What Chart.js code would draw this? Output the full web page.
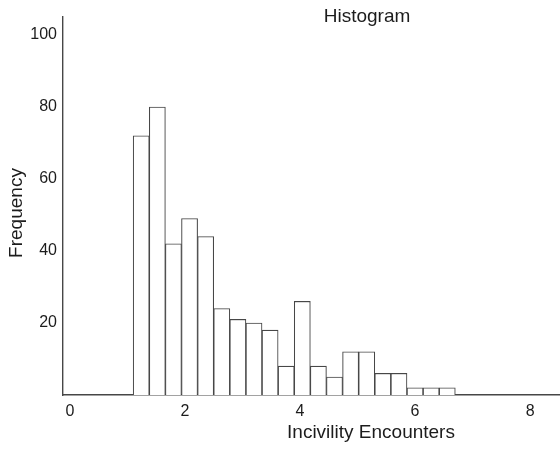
<!DOCTYPE html>
<html lang="en">
<head>
<meta charset="UTF-8">
<title>Histogram</title>
<script src="https://cdn.jsdelivr.net/npm/chart.js"></script>
<style>
    html, body { margin: 0; padding: 0; background: #fff; }
    #wrap { width: 560px; height: 450px; position: relative; }
</style>
</head>
<body>
<div id="wrap"><canvas id="hist"></canvas></div>
<script>
// bin midpoints (bins are 0.28 wide, from 1.1 to 6.7)
const binCenters = [1.24, 1.52, 1.80, 2.08, 2.36, 2.64, 2.92, 3.20, 3.48, 3.76,
                    4.04, 4.32, 4.60, 4.88, 5.16, 5.44, 5.72, 6.00, 6.28, 6.56];
const frequencies = [72, 80, 42, 49, 44, 24, 21, 20, 18, 8,
                     26, 8, 5, 12, 12, 6, 6, 2, 2, 2];
const xTicks = [0, 2, 4, 6, 8];
const yTicks = [20, 40, 60, 80, 100];

const chartTitle = 'Histogram';
const xTitle = 'Incivility Encounters';
const yTitle = 'Frequency';

const FONT = '"Liberation Sans", Helvetica, Arial, sans-serif';
const INK = '#1c1c1c';
const LINE = '#474747';

// titles sit off-centre in the original, so they are drawn by hand
const titlesPlugin = {
    id: 'titles',
    afterDraw(chart) {
        const ctx = chart.ctx;
        ctx.save();
        ctx.fillStyle = INK;
        ctx.font = '19px ' + FONT;
        ctx.textAlign = 'center';
        ctx.textBaseline = 'middle';
        ctx.fillText(chartTitle, 367, 17);
        ctx.fillText(xTitle, 371, 433);
        ctx.translate(17, 213);
        ctx.rotate(-Math.PI / 2);
        ctx.fillText(yTitle, 0, 0);
        ctx.restore();
    }
};

new Chart(document.getElementById('hist'), {
    type: 'bar',
    data: {
        datasets: [{
            data: binCenters.map((x, i) => ({ x: x, y: frequencies[i] })),
            backgroundColor: '#fff',
            borderColor: LINE,
            borderWidth: { top: 1.1, left: 1.1, right: 1.1, bottom: 0 },
            borderSkipped: false,
            barPercentage: 1,
            categoryPercentage: 1
        }]
    },
    options: {
        responsive: true,
        maintainAspectRatio: false,
        animation: false,
        layout: { padding: { top: 17, right: 0, bottom: 0, left: 0 } },
        plugins: {
            legend: { display: false },
            tooltip: { enabled: false },
            title: { display: false }
        },
        scales: {
            x: {
                type: 'linear',
                offset: false,
                min: -0.12,
                max: 8.52,
                afterBuildTicks: s => { s.ticks = xTicks.map(v => ({ value: v })); },
                afterFit: s => { s.height = 55; },
                grid: { display: false, drawTicks: false },
                border: { display: true, color: LINE, width: 1.4 },
                ticks: { color: INK, padding: 7, font: { family: FONT, size: 16 } }
            },
            y: {
                min: 0,
                max: 105,
                afterBuildTicks: s => { s.ticks = yTicks.map(v => ({ value: v })); },
                afterFit: s => { s.width = 63; },
                grid: { display: false, drawTicks: false },
                border: { display: true, color: LINE, width: 1.4 },
                ticks: { color: INK, padding: 6, font: { family: FONT, size: 16 } }
            }
        }
    },
    plugins: [titlesPlugin]
});
</script>
</body>
</html>
